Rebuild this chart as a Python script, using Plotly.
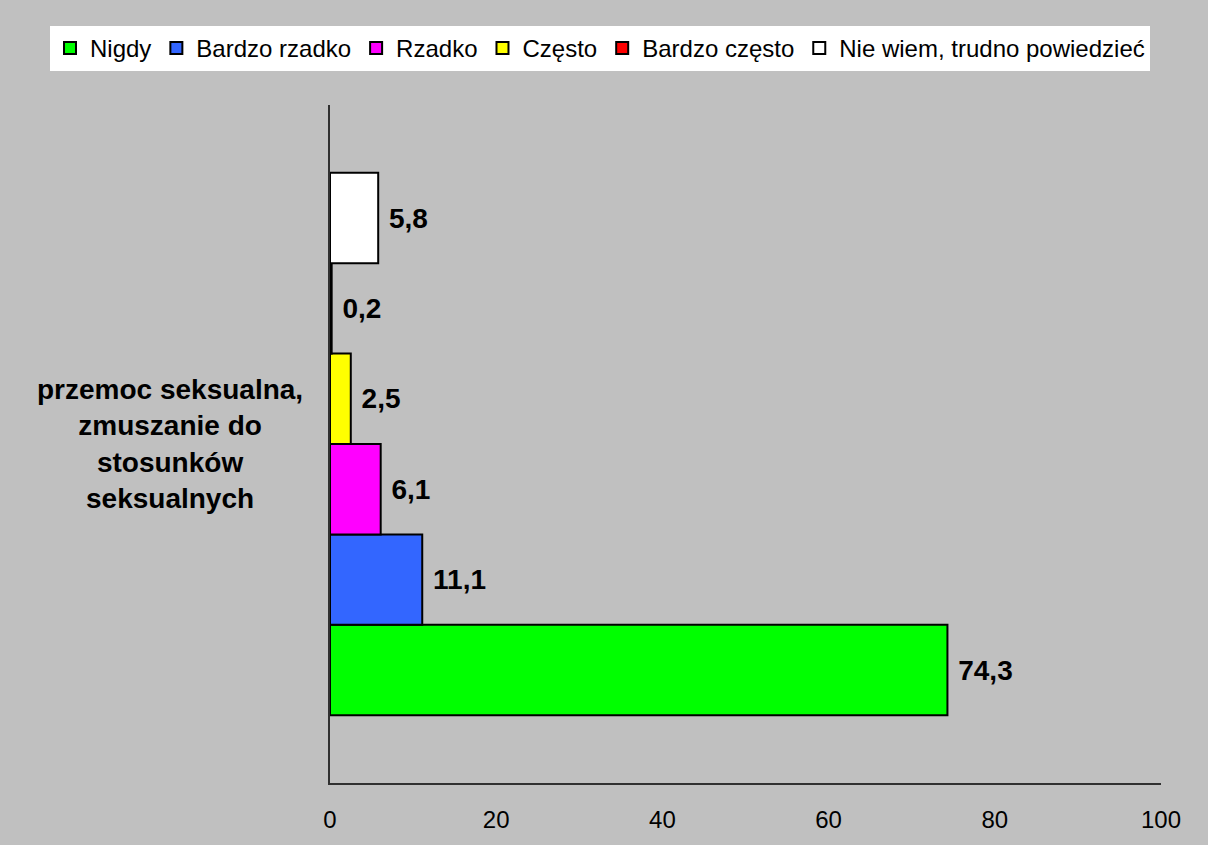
import plotly.graph_objects as go

categories = ["przemoc seksualna,<br>zmuszanie do<br>stosunków<br>seksualnych"]
series_names = ["Nigdy", "Bardzo rzadko", "Rzadko", "Często", "Bardzo często", "Nie wiem, trudno powiedzieć"]
series_values = [74.3, 11.1, 6.1, 2.5, 0.2, 5.8]
series_labels = ["74,3", "11,1", "6,1", "2,5", "0,2", "5,8"]
colors = ["#00FF00", "#3366FF", "#FF00FF", "#FFFF00", "#FF0000", "#FFFFFF"]
x_ticks = [0, 20, 40, 60, 80, 100]

fig = go.Figure()
for name, val, lab, col in zip(series_names, series_values, series_labels, colors):
    fig.add_trace(go.Bar(
        y=["cat"], x=[val], name=name, orientation="h",
        marker=dict(color=col, line=dict(color="black", width=2)),
        text=["\u00a0" + lab], textposition="outside", cliponaxis=False,
        textfont=dict(family="Liberation Sans, Arial", size=28, color="black", weight="bold"),
    ))

fig.add_annotation(
    x=-0.192, y=0.5, xref="paper", yref="paper", xanchor="center", yanchor="middle",
    text="<b>" + categories[0] + "</b>", showarrow=False, align="center",
    font=dict(family="Liberation Sans, Arial", size=28, color="black"),
)

fig.update_layout(
    width=1208, height=845,
    margin=dict(l=330, r=47, t=105, b=62, autoexpand=False),
    paper_bgcolor="#C0C0C0", plot_bgcolor="#C0C0C0",
    barmode="group", bargap=0.2, bargroupgap=0,
    showlegend=True,
    legend=dict(orientation="h", x=(50 - 330) / 831, xref="paper", xanchor="left",
                y=(783 - 26) / 678, yref="paper", yanchor="top",
                bgcolor="white", font=dict(family="Liberation Sans, Arial", size=24, color="black"),
                traceorder="normal", itemwidth=30),
    font=dict(family="Liberation Sans, Arial", color="black"),
)
fig.update_xaxes(range=[0, 100], tickvals=x_ticks, ticktext=[str(t) for t in x_ticks],
                 showgrid=False, zeroline=False, showline=True, linecolor="#303030", linewidth=1.5,
                 ticks="", ticklabelstandoff=14,
                 tickfont=dict(family="Liberation Sans, Arial", size=24, color="black"))
fig.update_yaxes(showticklabels=False, showgrid=False, zeroline=False, showline=True,
                 linecolor="#303030", linewidth=1.5, ticks="")

fig.write_html("out.html", config={"displayModeBar": False},
               post_script="document.body.style.margin='0';")
